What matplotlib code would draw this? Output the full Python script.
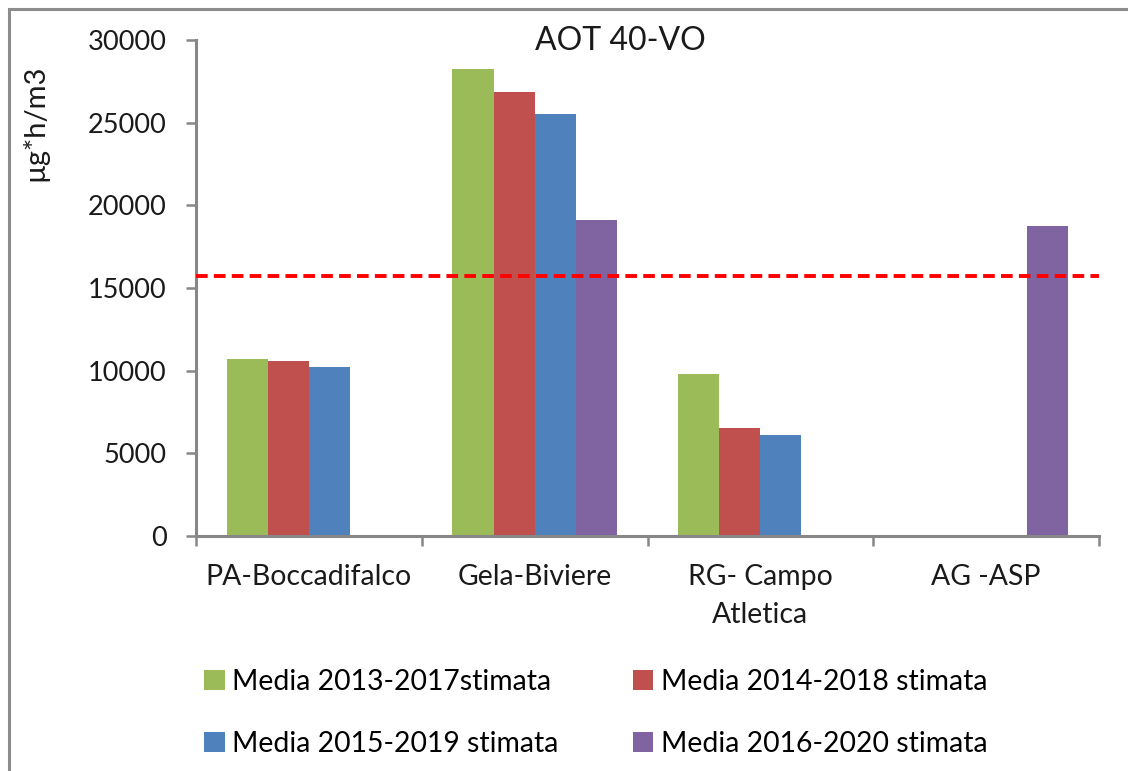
import matplotlib
matplotlib.use("Agg")
import matplotlib.pyplot as plt
from matplotlib.patches import Rectangle
import numpy as np

plt.rcParams['font.family'] = ['Lato', 'DejaVu Sans']

stations = ['PA-Boccadifalco', 'Gela-Biviere', 'RG- Campo\nAtletica', 'AG -ASP']
periods = ['Media 2013-2017stimata', 'Media 2014-2018 stimata',
           'Media 2015-2019 stimata', 'Media 2016-2020 stimata']
colors = ['#9BBB59', '#C0504D', '#4F81BD', '#8064A2']

media_2013_2017 = [10700, 28250, 9780, np.nan]
media_2014_2018 = [10590, 26830, 6550, np.nan]
media_2015_2019 = [10220, 25500, 6090, np.nan]
media_2016_2020 = [np.nan, 19130, np.nan, 18750]
series = [media_2013_2017, media_2014_2018, media_2015_2019, media_2016_2020]

soglia = 15700
yticks = [0, 5000, 10000, 15000, 20000, 25000, 30000]

fig = plt.figure(figsize=(11.28, 7.71), dpi=100)
ax = fig.add_axes([0.1738, 0.3048, 0.8005, 0.6433])

x = np.arange(len(stations))
w = 0.182
bars = []
for j, (vals, col) in enumerate(zip(series, colors)):
    b = ax.bar(x + (j - 1.5) * w, vals, width=w, color=col, edgecolor='none')
    bars.append(b)

ax.axhline(soglia, color='#FF0000', lw=2.8, dashes=(3, 1.6), zorder=3)

axis_col = '#878787'
ax.set_xlim(-0.5, len(stations) - 0.5)
ax.set_ylim(0, 30000)
ax.set_yticks(yticks)
ax.set_yticklabels([str(v) for v in yticks])
ax.set_xticks(x)
ax.set_xticklabels(stations, linespacing=1.6)
ax.set_xticks(np.arange(len(stations) + 1) - 0.5, minor=True)
ax.tick_params(axis='x', which='major', length=0, pad=20, labelsize=20.4, colors='#1a1a1a')
ax.tick_params(axis='x', which='minor', length=7, width=1.8, color=axis_col)
ax.tick_params(axis='y', length=7, width=1.8, color=axis_col, pad=14,
               labelsize=19.5, labelcolor='#1a1a1a')
for s in ['top', 'right']:
    ax.spines[s].set_visible(False)
for s in ['left', 'bottom']:
    ax.spines[s].set_color(axis_col)
    ax.spines[s].set_linewidth(2.2)

fig.text(620 / 1128, 1 - 41 / 771, 'AOT 40-VO', ha='center', va='center',
         fontsize=23, color='#1a1a1a')
fig.text(35 / 1128, 1 - 123 / 771, 'µg*h/m3', rotation=90, ha='center', va='center',
         fontsize=21, color='#1a1a1a')

# outer chart frame
fig.patches.append(Rectangle((9 / 1128, -0.02), 1.05, 1 - 9 / 771 + 0.02,
                             transform=fig.transFigure, fill=False,
                             edgecolor='#8c8c8c', lw=2.2))

order = [0, 2, 1, 3]
fig.legend([bars[i] for i in order], [periods[i] for i in order], ncol=2,
           loc='upper left', bbox_to_anchor=(190 / 1128, 1 - 655 / 771),
           frameon=False, fontsize=20.4, handlelength=0.72, handleheight=0.72,
           handletextpad=0.28, labelspacing=1.25, columnspacing=2.6, borderpad=0)

fig.savefig('out.png', dpi=100)
